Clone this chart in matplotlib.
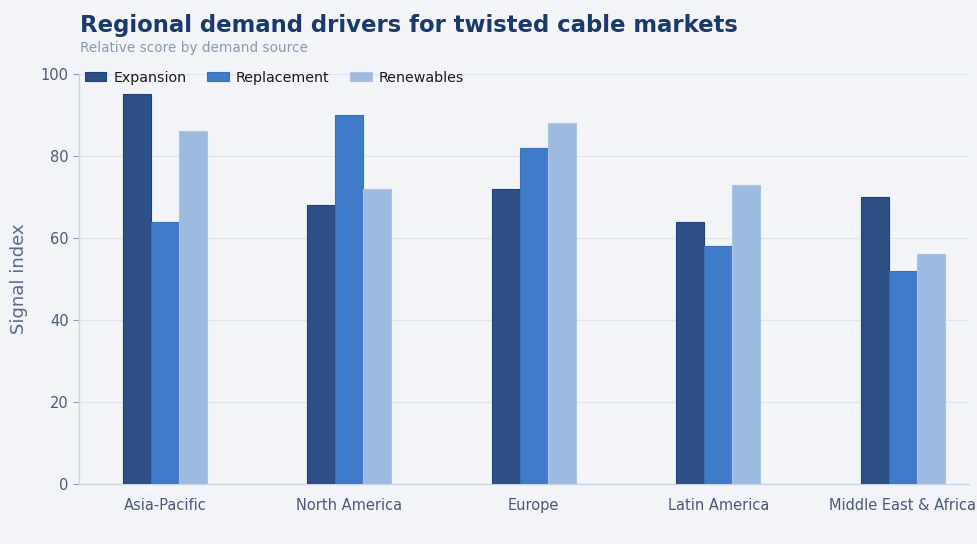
import matplotlib.pyplot as plt
import numpy as np

regions = ["Asia-Pacific", "North America", "Europe", "Latin America", "Middle East & Africa"]
series_names = ["Expansion", "Replacement", "Renewables"]
expansion = [95, 68, 72, 64, 70]
replacement = [64, 90, 82, 58, 52]
renewables = [86, 72, 88, 73, 56]
colors = ["#2b4f86", "#3f7bc8", "#9dbbe0"]
edges = ["#1f3f76", "#3a70b8", "#a9c4e4"]

bg = "#f2f4f8"
fig = plt.figure(figsize=(9.78, 5.44), dpi=100, facecolor=bg)
ax = fig.add_axes([0.0808, 0.1103, 0.910, 0.7537], facecolor=bg)

x = np.arange(len(regions))
width = 0.152
for i, (vals, name) in enumerate(zip([expansion, replacement, renewables], series_names)):
    ax.bar(x + (i - 1) * width, vals, width, color=colors[i], edgecolor=edges[i],
           linewidth=0.8, label=name, zorder=3)

ax.set_xlim(-0.466, 4.36)
ax.set_ylim(0, 100)
ax.set_yticks(range(0, 101, 20))
ax.set_xticks(x)
ax.set_xticklabels(regions)
ax.yaxis.grid(True, color="#dfe5ef", linewidth=0.9, zorder=0)
ax.set_axisbelow(True)

for side in ["top", "right"]:
    ax.spines[side].set_visible(False)
for side in ["left", "bottom"]:
    ax.spines[side].set_color("#c8d5e8")
    ax.spines[side].set_linewidth(1.0)

ax.tick_params(axis="y", colors="#4a5a78", labelsize=10.5, length=4, color="#8a9ab5")
ax.tick_params(axis="x", colors="#4a5a78", labelsize=10.5, length=0, pad=10)
ax.set_ylabel("Signal index", fontsize=13, color="#5a6a88", labelpad=9)

ax.legend(loc="upper left", ncol=3, frameon=False, fontsize=10.3,
          bbox_to_anchor=(0.0, 1.022), borderaxespad=0, handlelength=1.5,
          handleheight=0.65, columnspacing=1.45, handletextpad=0.5,
          labelcolor="#1a1a1a")

fig.text(0.0818, 0.953, "Regional demand drivers for twisted cable markets",
         fontsize=16.4, fontweight="bold", color="#1b3a6b", va="center")
fig.text(0.0818, 0.912, "Relative score by demand source",
         fontsize=9.8, color="#8a9ab5", va="center")

fig.savefig("out.png", dpi=100, facecolor=bg)
